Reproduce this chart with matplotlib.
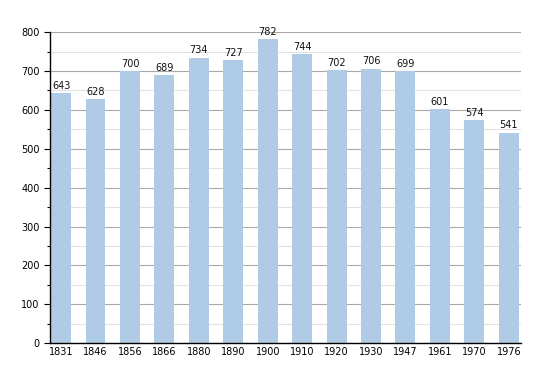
import matplotlib.pyplot as plt
import numpy as np
from matplotlib.ticker import MultipleLocator

years = ['1831', '1846', '1856', '1866', '1880', '1890', '1900', '1910',
         '1920', '1930', '1947', '1961', '1970', '1976']
population = [643, 628, 700, 689, 734, 727, 782, 744, 702, 706, 699, 601, 574, 541]

fig = plt.figure(figsize=(5.5, 3.73), dpi=100)
ax = fig.add_axes([0.091, 0.080, 0.856, 0.834])

x = np.arange(len(years))
ax.bar(x, population, width=0.58, color='#b0cbe5', zorder=2)

for xi, v in zip(x, population):
    ax.text(xi, v + 6, str(v), ha='center', va='bottom', fontsize=7, color='#111111', zorder=3)

ax.set_ylim(0, 800)
ax.set_xlim(-0.32, 13.35)
ax.yaxis.set_major_locator(MultipleLocator(100))
ax.yaxis.set_minor_locator(MultipleLocator(50))
ax.grid(axis='y', which='major', color='#a8a8a8', linewidth=0.8, zorder=1)
ax.grid(axis='y', which='minor', color='#e2e2e2', linewidth=0.8, zorder=1)

ax.set_xticks(x)
ax.set_xticklabels(years, fontsize=7)
ax.tick_params(axis='x', length=0, pad=3)
ax.tick_params(axis='y', which='major', labelsize=7, length=4, width=0.8)
ax.tick_params(axis='y', which='minor', length=2, width=0.8)

for side in ['top', 'right']:
    ax.spines[side].set_visible(False)
ax.spines['left'].set_linewidth(1)
ax.spines['bottom'].set_linewidth(1)

fig.savefig('out.png', dpi=100)
